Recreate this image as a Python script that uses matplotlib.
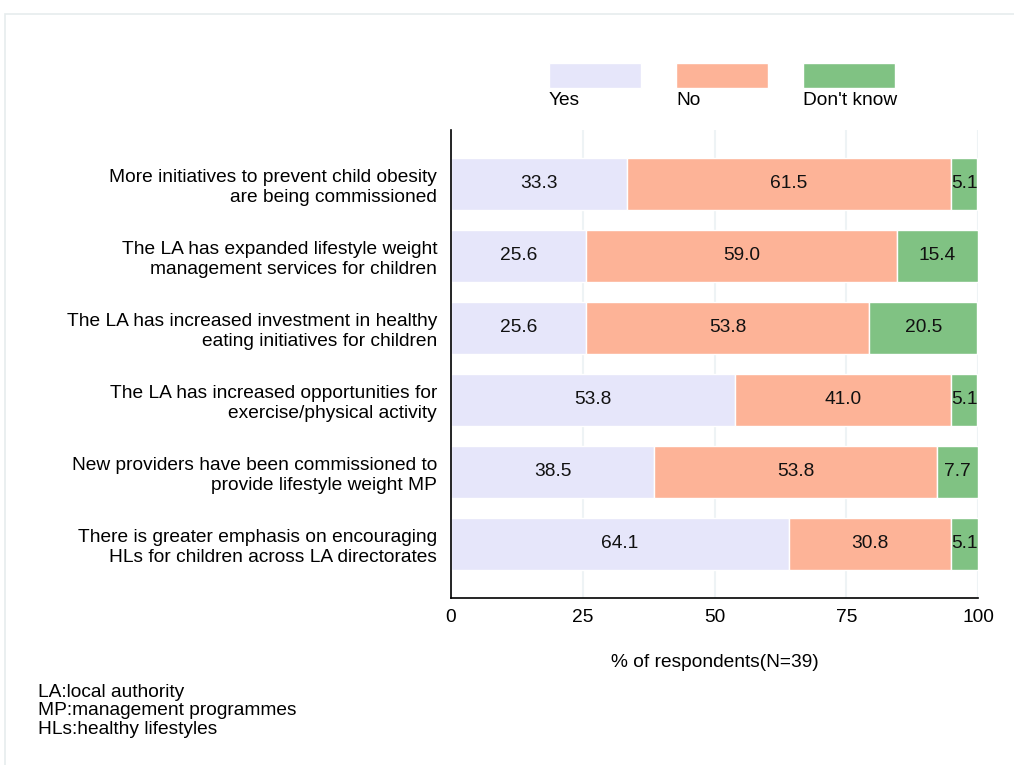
import matplotlib.pyplot as plt
from matplotlib.patches import Rectangle

plt.rcParams['font.family'] = ['Liberation Sans', 'DejaVu Sans']

# Data ----
statements = [
    "More initiatives to prevent child obesity\nare being commissioned",
    "The LA has expanded lifestyle weight\nmanagement services for children",
    "The LA has increased investment in healthy\neating initiatives for children",
    "The LA has increased opportunities for\nexercise/physical activity",
    "New providers have been commissioned to\nprovide lifestyle weight MP",
    "There is greater emphasis on encouraging\nHLs for children across LA directorates",
]
yes = [33.3, 25.6, 25.6, 53.8, 38.5, 64.1]
no = [61.5, 59.0, 53.8, 41.0, 53.8, 30.8]
dont_know = [5.1, 15.4, 20.5, 5.1, 7.7, 5.1]
responses = ["Yes", "No", "Don't know"]
colors = ["#e6e6fa", "#fdb397", "#80c283"]
notes = ["LA:local authority", "MP:management programmes", "HLs:healthy lifestyles"]

FS = 13.8

fig = plt.figure(figsize=(10.14, 7.65), dpi=100)
ax = fig.add_axes([0.4448, 0.2183, 0.5197, 0.6118])

# Faint outer frame
fig.add_artist(Rectangle((0.005, -0.1), 1.1, 1.082, transform=fig.transFigure,
                         fill=False, edgecolor='#e6eced', linewidth=1.2))

# Stacked bars
ypos = list(range(len(statements)))
left = [0.0] * len(statements)
for series, color in zip([yes, no, dont_know], colors):
    ax.barh(ypos, series, left=left, height=0.72, color=color,
            edgecolor='white', linewidth=1.0, zorder=2)
    for y, l, v in zip(ypos, left, series):
        ax.text(l + v / 2, y, f"{v:.1f}", ha='center', va='center',
                fontsize=FS, color='#111111', zorder=3)
    left = [a + b for a, b in zip(left, series)]

ax.set_xlim(0, 100)
ax.set_ylim(len(statements) - 0.25, -0.75)
ax.set_xticks([0, 25, 50, 75, 100])
ax.set_yticks(ypos)
ax.set_yticklabels(statements, fontsize=FS, linespacing=1.2)
ax.tick_params(axis='y', length=0, pad=10)
ax.tick_params(axis='x', length=0, pad=8, labelsize=FS)
ax.grid(axis='x', color='#eef3f5', linewidth=1.5, zorder=0)
ax.set_axisbelow(True)
for s in ['top', 'right']:
    ax.spines[s].set_visible(False)
for s in ['left', 'bottom']:
    ax.spines[s].set_linewidth(1.2)
    ax.spines[s].set_color('black')
ax.set_xlabel("% of respondents(N=39)", fontsize=FS, labelpad=20)

# Legend: coloured boxes with labels underneath
for i, (lab, color) in enumerate(zip(responses, colors)):
    x0 = 0.5414 + i * 0.1253
    fig.add_artist(Rectangle((x0, 0.8850), 0.0907, 0.0327,
                             transform=fig.transFigure, facecolor=color,
                             edgecolor='white'))
    fig.text(x0, 0.8680, lab, fontsize=FS, ha='left', va='center')

# Abbreviation notes
fig.text(0.0375, 0.0706, "\n".join(notes), fontsize=FS, ha='left', va='center',
         linespacing=1.15)

fig.savefig("out.png", dpi=100)
